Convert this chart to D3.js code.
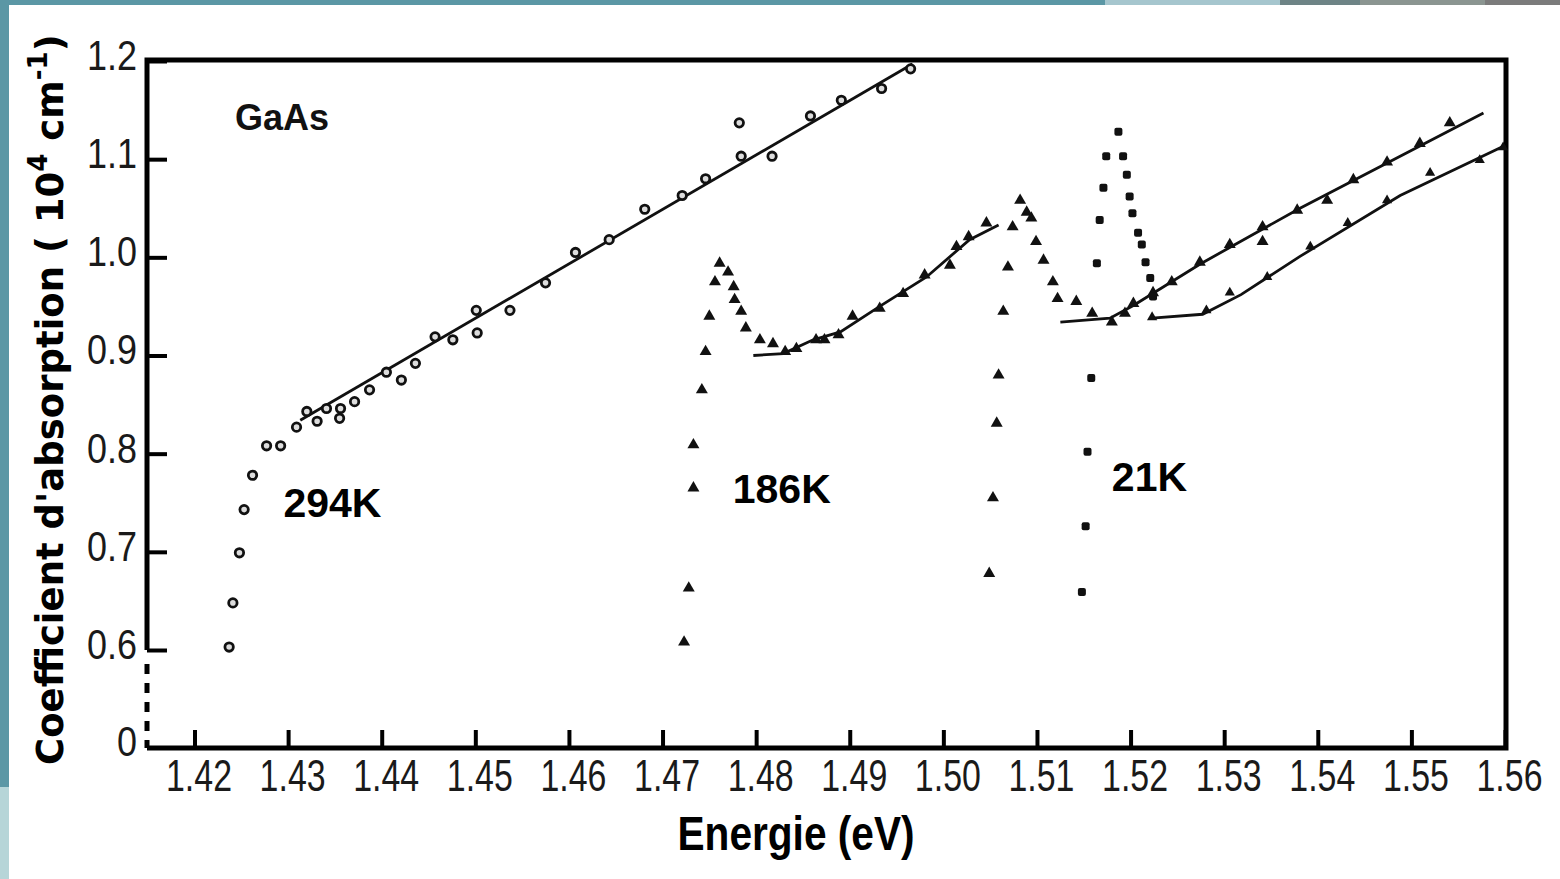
<!doctype html>
<html>
<head>
<meta charset="utf-8">
<title>GaAs absorption</title>
<script src="https://d3js.org/d3.v7.min.js"></script>
<style>
  body { margin: 0; background: #fff; }
  svg { display: block; }
</style>
</head>
<body>
<script>

// tick labels
var energyTicks = [1.42, 1.43, 1.44, 1.45, 1.46, 1.47, 1.48, 1.49, 1.50, 1.51, 1.52, 1.53, 1.54, 1.55, 1.56];
var absTicks = [0.6, 0.7, 0.8, 0.9, 1.0, 1.1, 1.2];

// 294 K (open circles) [energy eV, alpha 10^4 cm-1]
var pts294 = [[1.4237,0.603],[1.4241,0.648],[1.4248,0.699],[1.4253,0.743],[1.4262,0.778],[1.4277,0.808],
  [1.4292,0.808],[1.4309,0.827],[1.4320,0.843],[1.4331,0.833],[1.4341,0.846],[1.4355,0.836],[1.4356,0.846],
  [1.4371,0.853],[1.4387,0.865],[1.4405,0.883],[1.4421,0.875],[1.4436,0.892],[1.4457,0.919],[1.4476,0.916],
  [1.4501,0.946],[1.4502,0.923],[1.4537,0.946],[1.4575,0.974],[1.4607,1.005],[1.4643,1.018],[1.4681,1.049],
  [1.4721,1.063],[1.4746,1.080],[1.4782,1.137],[1.4784,1.103],[1.4817,1.103],[1.4858,1.144],[1.4891,1.160],
  [1.4934,1.172],[1.4965,1.192]];
var fit294 = [[1.4313,0.834],[1.4967,1.197]];

// 186 K (triangles)
var pts186 = [[1.4723,0.608],[1.4728,0.663],[1.4733,0.765],[1.4733,0.809],[1.4742,0.865],[1.4746,0.904],
  [1.4750,0.940],[1.4756,0.975],[1.4761,0.994],[1.4770,0.985],[1.4776,0.970],[1.4777,0.957],[1.4784,0.945],
  [1.4789,0.928],[1.4804,0.916],[1.4818,0.912],[1.4831,0.904],[1.4843,0.907],[1.4864,0.916],[1.4873,0.916],
  [1.4888,0.921],[1.4903,0.940],[1.4932,0.948],[1.4957,0.963],[1.4980,0.982],[1.5007,0.992],[1.5014,1.011],
  [1.5027,1.021],[1.5046,1.035]];
var fit186 = [[1.4797,0.900],[1.4829,0.902],[1.4861,0.916],[1.4890,0.924],[1.4932,0.950],[1.4982,0.980],
  [1.5028,1.018],[1.5059,1.033]];

// third curve (triangles, unlabelled)
var pts90 = [[1.5049,0.678],[1.5053,0.755],[1.5057,0.831],[1.5059,0.880],[1.5064,0.945],[1.5069,0.990],
  [1.5074,1.031],[1.5082,1.058],[1.5089,1.046],[1.5094,1.040],[1.5099,1.016],[1.5107,0.997],[1.5117,0.975],
  [1.5122,0.958],[1.5142,0.955],[1.5159,0.943],[1.5180,0.934],[1.5194,0.943],[1.5203,0.953],[1.5224,0.964],
  [1.5244,0.975],[1.5274,0.995],[1.5306,1.013],[1.5341,1.031],[1.5341,1.016],[1.5378,1.048],[1.5410,1.058],
  [1.5438,1.079],[1.5474,1.097],[1.5509,1.116],[1.5541,1.137]];
var fit90 = [[1.5125,0.934],[1.5178,0.938],[1.5203,0.951],[1.5274,0.993],[1.5381,1.050],[1.5577,1.147]];

// 21 K (dots on the peak, ticks on the line)
var pts21 = [[1.5148,0.659],[1.5152,0.726],[1.5154,0.802],[1.5158,0.877],[1.5164,0.994],[1.5167,1.038],
  [1.5171,1.071],[1.5174,1.103],[1.5187,1.128],[1.5192,1.103],[1.5196,1.084],[1.5199,1.062],[1.5202,1.045],
  [1.5208,1.025],[1.5212,1.013],[1.5216,0.995],[1.5221,0.979],[1.5224,0.960]];
var line21pts = [[1.5223,0.939],[1.5281,0.946],[1.5306,0.964],[1.5346,0.980],[1.5392,1.011],[1.5432,1.035],
  [1.5474,1.058],[1.5520,1.086],[1.5573,1.099],[1.5598,1.112]];
var fit21 = [[1.5223,0.938],[1.5277,0.942],[1.5318,0.962],[1.5381,1.001],[1.5488,1.063],[1.5600,1.114]];

var curveLabels = [{t: '294K', e: 1.4295, a: 0.735}, {t: '186K', e: 1.4775, a: 0.750}, {t: '21K', e: 1.5180, a: 0.762}];

var W = 1560, H = 879;
var plotLeft = 147, plotRight = 1506, plotTop = 60, plotBottom = 748;

var svg = d3.select('body').append('svg').attr('width', W).attr('height', H);

// slide border
svg.append('rect').attr('x', 0).attr('y', 0).attr('width', 1105).attr('height', 5).attr('fill', '#5b97a5');
svg.append('rect').attr('x', 1105).attr('y', 0).attr('width', 175).attr('height', 5).attr('fill', '#a6c6ce');
svg.append('rect').attr('x', 1280).attr('y', 0).attr('width', 80).attr('height', 5).attr('fill', '#6e8486');
svg.append('rect').attr('x', 1360).attr('y', 0).attr('width', 125).attr('height', 5).attr('fill', '#8b9591');
svg.append('rect').attr('x', 1485).attr('y', 0).attr('width', 75).attr('height', 5).attr('fill', '#7b7b7b');
svg.append('rect').attr('x', 0).attr('y', 0).attr('width', 9).attr('height', 787).attr('fill', '#5b97a5');
svg.append('rect').attr('x', 0).attr('y', 787).attr('width', 9).attr('height', 92).attr('fill', '#b6d5d8');

var x = d3.scaleLinear().domain([1.42, 1.56]).range([194.5, 1505]);
var y = d3.scaleLinear().domain([0.6, 1.2]).range([650, 61]);

var numFont = '"Liberation Sans Narrow", "Arial Narrow", "Liberation Sans", sans-serif';

// x axis
var gx = svg.append('g').attr('transform', 'translate(0,' + plotBottom + ')')
  .call(d3.axisBottom(x).tickValues(energyTicks).tickFormat(d3.format('.2f')).tickSize(-18).tickPadding(12));
gx.select('.domain').remove();
gx.selectAll('.tick line').attr('stroke', '#000').attr('stroke-width', 4);
gx.selectAll('.tick text').attr('font-family', numFont).attr('font-size', 44).attr('fill', '#1a1a1a')
  .attr('dx', 4).attr('textLength', 66).attr('lengthAdjust', 'spacingAndGlyphs');

// y axis
var gy = svg.append('g').attr('transform', 'translate(' + plotLeft + ',0)')
  .call(d3.axisLeft(y).tickValues(absTicks).tickFormat(d3.format('.1f')).tickSize(-20).tickPadding(10));
gy.select('.domain').remove();
gy.selectAll('.tick line').attr('stroke', '#000').attr('stroke-width', 4);
gy.selectAll('.tick text').attr('font-family', numFont).attr('font-size', 42).attr('fill', '#1a1a1a')
  .attr('dy', '0.2em').attr('textLength', 50).attr('lengthAdjust', 'spacingAndGlyphs');

// the "0" under the axis break
svg.append('text').attr('x', plotLeft - 10).attr('y', plotBottom).attr('dy', '0.2em')
  .attr('text-anchor', 'end').attr('font-family', numFont).attr('font-size', 42).attr('fill', '#1a1a1a')
  .attr('textLength', 20).attr('lengthAdjust', 'spacingAndGlyphs').text('0');

// frame
svg.append('path')
  .attr('d', 'M' + plotLeft + ',' + y(0.6) + 'V' + plotTop + 'H' + plotRight + 'V' + plotBottom + 'H' + plotLeft)
  .attr('fill', 'none').attr('stroke', '#000').attr('stroke-width', 5);
svg.append('line').attr('x1', plotLeft).attr('x2', plotLeft).attr('y1', y(0.6) + 14).attr('y2', plotBottom)
  .attr('stroke', '#000').attr('stroke-width', 5).attr('stroke-dasharray', '10,9');

// fitted lines
var line = d3.line().x(function (d) { return x(d[0]); }).y(function (d) { return y(d[1]); });
[fit294, fit186, fit90, fit21].forEach(function (f) {
  svg.append('path').attr('d', line(f)).attr('fill', 'none').attr('stroke', '#111').attr('stroke-width', 2.8);
});

// markers
svg.selectAll('.c294').data(pts294).enter().append('circle')
  .attr('cx', function (d) { return x(d[0]); }).attr('cy', function (d) { return y(d[1]); })
  .attr('r', 4.2).attr('fill', '#ddd').attr('stroke', '#111').attr('stroke-width', 2.8);

var tri = d3.symbol().type(d3.symbolTriangle).size(62);
[pts186, pts90].forEach(function (p) {
  svg.append('g').selectAll('path').data(p).enter().append('path')
    .attr('d', tri)
    .attr('transform', function (d) { return 'translate(' + x(d[0]) + ',' + y(d[1]) + ')'; })
    .attr('fill', '#111');
});
var triS = d3.symbol().type(d3.symbolTriangle).size(45);
svg.append('g').selectAll('path').data(line21pts).enter().append('path')
  .attr('d', triS)
  .attr('transform', function (d) { return 'translate(' + x(d[0]) + ',' + y(d[1]) + ')'; })
  .attr('fill', '#111');

svg.selectAll('.c21').data(pts21).enter().append('rect')
  .attr('x', function (d) { return x(d[0]) - 4; }).attr('y', function (d) { return y(d[1]) - 4; })
  .attr('width', 8).attr('height', 8).attr('rx', 2).attr('fill', '#111');

// labels
svg.append('text').attr('x', 235).attr('y', 130)
  .attr('font-family', '"Liberation Sans", Arial, sans-serif').attr('font-weight', 'bold')
  .attr('font-size', 36).attr('fill', '#111').text('GaAs');

svg.selectAll('.clab').data(curveLabels).enter().append('text')
  .attr('x', function (d) { return x(d.e); }).attr('y', function (d) { return y(d.a); })
  .attr('font-family', '"Liberation Sans", Arial, sans-serif').attr('font-weight', 'bold')
  .attr('font-size', 41).attr('fill', '#000').text(function (d) { return d.t; });

// axis titles
svg.append('text').attr('x', 796).attr('y', 850).attr('text-anchor', 'middle')
  .attr('font-family', numFont).attr('font-weight', 'bold').attr('font-size', 48)
  .attr('textLength', 237).attr('lengthAdjust', 'spacingAndGlyphs')
  .attr('fill', '#000').text('Energie (eV)');

var yt = svg.append('text').attr('transform', 'translate(63,765) rotate(-90)')
  .attr('font-family', '"DejaVu Sans", sans-serif').attr('font-weight', 'bold').attr('font-size', 37)
  .attr('fill', '#000');
yt.append('tspan').text("Coefficient d'absorption ( 10");
yt.append('tspan').attr('font-size', 26).attr('dy', -16).text('4');
yt.append('tspan').attr('dy', 16).text(' cm');
yt.append('tspan').attr('font-size', 26).attr('dy', -16).text('-1');
yt.append('tspan').attr('dy', 16).text(')');

</script>
</body>
</html>
